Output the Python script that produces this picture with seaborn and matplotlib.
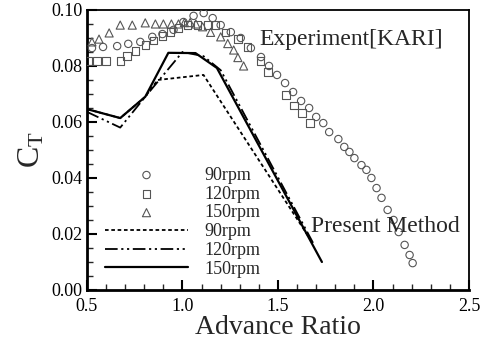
import matplotlib
matplotlib.use("Agg")
import matplotlib.pyplot as plt
import seaborn as sns
import numpy as np

# Experimental data [KARI]
exp90_J = [0.526, 0.584, 0.658, 0.716, 0.779, 0.842, 0.895, 0.953, 1.005, 1.058,
           1.111, 1.158, 1.200, 1.253, 1.305, 1.358, 1.411, 1.453, 1.495, 1.537,
           1.579, 1.621, 1.663, 1.700, 1.737, 1.768, 1.816, 1.847, 1.874, 1.900,
           1.937, 1.963, 1.989, 2.016, 2.042, 2.074, 2.105, 2.132, 2.163, 2.189, 2.205]
exp90_CT = [0.0864, 0.0868, 0.0871, 0.0879, 0.0886, 0.0904, 0.0914, 0.0929, 0.0957, 0.0979,
            0.0989, 0.0971, 0.0946, 0.0921, 0.0900, 0.0864, 0.0832, 0.0800, 0.0768, 0.0739,
            0.0707, 0.0675, 0.0650, 0.0618, 0.0596, 0.0564, 0.0539, 0.0511, 0.0493, 0.0471,
            0.0446, 0.0429, 0.0400, 0.0364, 0.0329, 0.0286, 0.0250, 0.0207, 0.0161, 0.0125, 0.0096]

exp120_J = [0.505, 0.553, 0.600, 0.674, 0.710, 0.753, 0.805, 0.847, 0.895, 0.937,
            0.979, 1.026, 1.079, 1.132, 1.174, 1.226, 1.290, 1.340, 1.410, 1.447,
            1.542, 1.584, 1.626, 1.668]
exp120_CT = [0.0818, 0.0818, 0.0818, 0.0818, 0.0836, 0.0854, 0.0875, 0.0890, 0.0907, 0.0921,
             0.0936, 0.0946, 0.0946, 0.0946, 0.0946, 0.0920, 0.0896, 0.0868, 0.0818, 0.0779,
             0.0696, 0.0660, 0.0632, 0.0596]

exp150_J = [0.526, 0.563, 0.616, 0.674, 0.737, 0.805, 0.858, 0.900, 0.942, 0.979,
            1.010, 1.040, 1.070, 1.105, 1.147, 1.200, 1.237, 1.268, 1.290, 1.320]
exp150_CT = [0.0886, 0.0896, 0.0918, 0.0946, 0.0946, 0.0954, 0.0950, 0.0950, 0.0950, 0.0950,
             0.0955, 0.0955, 0.0950, 0.0940, 0.0920, 0.0904, 0.0880, 0.0857, 0.0830, 0.0800]

# Present method
pm90_J = [0.5, 0.674, 0.805, 0.87, 1.11, 1.67]
pm90_CT = [0.0646, 0.0614, 0.069, 0.075, 0.0768, 0.0180]
pm120_J = [0.5, 0.674, 0.805, 1.0, 1.11, 1.2, 1.69]
pm120_CT = [0.0636, 0.0580, 0.069, 0.085, 0.0835, 0.0785, 0.0160]
pm150_J = [0.5, 0.674, 0.805, 0.926, 1.068, 1.18, 1.73]
pm150_CT = [0.0646, 0.0614, 0.069, 0.0847, 0.0846, 0.0793, 0.0100]

sns.set_style("ticks")
plt.rcParams['font.family'] = ['Liberation Serif', 'DejaVu Serif']
plt.rcParams['mathtext.fontset'] = 'custom'
plt.rcParams['mathtext.rm'] = 'Liberation Serif'
plt.rcParams['mathtext.it'] = 'Liberation Serif'

fig = plt.figure(figsize=(4.86, 3.44), dpi=100)
ax = fig.add_axes([0.179, 0.157, 0.786, 0.814])

mk = dict(facecolor='none', edgecolor='#555555', linewidth=0.8, zorder=3)
sns.scatterplot(x=exp90_J, y=exp90_CT, marker='o', s=28, label='90rpm', ax=ax, **mk)
sns.scatterplot(x=exp120_J, y=exp120_CT, marker='s', s=28, label='120rpm', ax=ax, **mk)
sns.scatterplot(x=exp150_J, y=exp150_CT, marker='^', s=34, label='150rpm', ax=ax, **mk)

sns.lineplot(x=pm90_J, y=pm90_CT, sort=False, color='black', lw=1.3,
             label='90rpm', ax=ax, linestyle=(0, (2, 1.5)))
sns.lineplot(x=pm120_J, y=pm120_CT, sort=False, color='black', lw=1.3,
             label='120rpm', ax=ax, linestyle=(0, (7, 2, 1.2, 2, 1.2, 2)))
sns.lineplot(x=pm150_J, y=pm150_CT, sort=False, color='black', lw=1.6,
             label='150rpm', ax=ax)

ax.set_xlim(0.5, 2.5)
ax.set_ylim(0.0, 0.10)
ax.set_xticks([0.5, 1.0, 1.5, 2.0, 2.5])
ax.set_yticks([0.0, 0.02, 0.04, 0.06, 0.08, 0.10])
ax.set_xticklabels(['0.5', '1.0', '1.5', '2.0', '2.5'])
ax.set_yticklabels(['0.00', '0.02', '0.04', '0.06', '0.08', '0.10'])
ax.set_xticks(np.arange(0.5, 2.5001, 0.1), minor=True)
ax.set_yticks(np.arange(0.0, 0.1001, 0.005), minor=True)
ax.tick_params(which='major', direction='in', length=7, width=1.5, labelsize=13,
               colors='black', top=False, right=False)
ax.tick_params(axis='x', which='major', pad=6)
ax.tick_params(axis='y', which='major', pad=3)
ax.tick_params(which='minor', direction='in', length=4, width=1.0, top=False, right=False)
for sp in ax.spines.values():
    sp.set_linewidth(1.3)
    sp.set_color('black')
ax.spines['left'].set_linewidth(2)
ax.spines['bottom'].set_linewidth(2)

ax.set_xlabel('Advance Ratio', fontsize=20, labelpad=0)
ax.set_ylabel(r'$\mathrm{C_T}$', fontsize=23, labelpad=4)

ax.text(1.40, 0.0895, 'Experiment[KARI]', fontsize=17, ha='left', va='center')
ax.text(1.672, 0.0225, 'Present Method', fontsize=17, ha='left', va='center')

ax.legend(loc='upper left', bbox_to_anchor=(0.047, 0.44), frameon=False,
          fontsize=13, handlelength=4.6, handletextpad=0.9, labelspacing=0.1,
          borderaxespad=0, borderpad=0)

fig.savefig('out.png', dpi=100)
